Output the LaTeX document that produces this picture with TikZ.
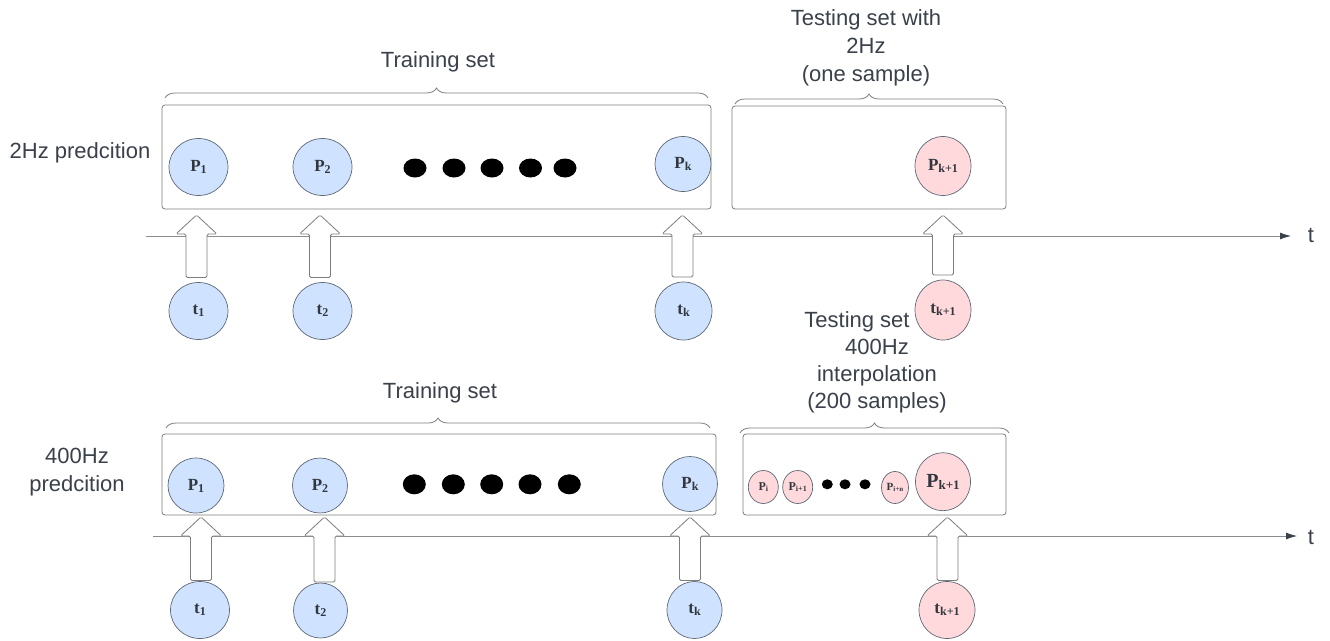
\documentclass[tikz,border=0pt]{standalone}
\usepackage{fontspec}
\setmainfont{Liberation Sans}
\newfontfamily\lserif{Liberation Serif}
\usetikzlibrary{shapes.geometric,arrows.meta,decorations.pathreplacing,calc}

\definecolor{ink}{RGB}{58,65,74}
\definecolor{frame}{RGB}{125,125,125}
\definecolor{axisgray}{RGB}{140,140,140}
\definecolor{bluefill}{RGB}{207,226,255}
\definecolor{pinkfill}{RGB}{255,217,220}
\definecolor{rim}{RGB}{95,105,118}
\definecolor{labink}{RGB}{50,55,62}

% symbol with subscript: #1 main size, #2 subscript size, #3 letter, #4 index
\newcommand\lab[4]{{\lserif\bfseries\fontsize{#1}{#1}\selectfont #3\raisebox{-0.12em}{\fontsize{#2}{#2}\selectfont #4}}}

% hollow block arrow from a time circle up to a set box
% [#1] x shift, #2 circle, #3 box, #4 gap below box, #5 gap above circle
\newcommand\pushup[5][0pt]{%
  \draw[hollow] let \p1=(#2.north), \p2=(#3.south) in
    (\x1+#1-10.5pt,\y1+#5) -- (\x1+#1-10.5pt,\y2-#4-19pt) -- (\x1+#1-20.5pt,\y2-#4-19pt)
    -- (\x1+#1,\y2-#4) -- (\x1+#1+20.5pt,\y2-#4-19pt) -- (\x1+#1+10.5pt,\y2-#4-19pt)
    -- (\x1+#1+10.5pt,\y1+#5) -- cycle;}

\tikzset{
  setbox/.style={draw=frame, line width=0.8pt, rounded corners=3pt, inner sep=0pt, outer sep=0pt, anchor=north west},
  bead/.style={ellipse, draw=rim, line width=0.7pt, inner sep=0pt, outer sep=0pt, text=labink},
  bluebead/.style={bead, fill=bluefill, minimum width=59pt, minimum height=57pt},
  pinkbead/.style={bead, fill=pinkfill},
  bigdot/.style={ellipse, fill=black, inner sep=0pt, minimum width=23pt, minimum height=19pt},
  smalldot/.style={ellipse, fill=black, inner sep=0pt, minimum width=11pt, minimum height=10pt},
  caption/.style={text=ink, font=\fontsize{22}{28}\selectfont, align=center, inner sep=0pt},
  timeaxis/.style={draw=axisgray, line width=0.8pt, -{Latex[length=11pt,width=7pt,color=ink]}},
  setbrace/.style={draw=frame, line width=0.8pt, decorate, decoration={brace, amplitude=10pt}},
  hollow/.style={draw=frame, fill=white, line width=0.8pt, rounded corners=1.5pt},
}

\begin{document}
\begin{tikzpicture}[x=1pt,y=-1pt]
\fill[white] (0,0) rectangle (1330,640);
\useasboundingbox (0,0) rectangle (1330,640);

% ---------------- 2 Hz prediction ----------------
\node[caption] (modeA) at (80,153) {2Hz predcition};
\node[caption] (trainLabA) at (438,62) {Training set};
\node[caption] (testLabA) at (866,48) {Testing set with\\2Hz\\(one sample)};

\draw[setbrace] (165,98) -- (708,98);
\draw[setbrace] (735,104) -- (1003,104);

\node[setbox, minimum width=549pt, minimum height=104pt] (trainA) at (162,105) {};
\node[setbox, minimum width=274pt, minimum height=103pt] (testA) at (732,106) {};

\coordinate (axA0) at (146,236);
\coordinate (axA1) at (1291,236);
\node[caption] (tlabA) at (1311,235) {t};
\draw[timeaxis] (axA0) -- (axA1);

\node[bluebead] (pA1) at (198.5,167) {\lab{17}{12}{P}{1}};
\node[bluebead] (pA2) at (322.5,167) {\lab{17}{12}{P}{2}};
\node[bluebead, minimum width=56pt, minimum height=55pt] (pAk) at (683,164) {\lab{17}{12}{P}{k}};
\node[pinkbead, minimum width=56pt, minimum height=59pt] (pAn) at (943,166) {\lab{17}{12}{P}{k+1}};

\foreach \i/\x in {1/415,2/454,3/492,4/530.5,5/565}
  \node[bigdot] (dA\i) at (\x,168) {};

\node[bluebead] (tA1) at (198.5,311) {\lab{17}{12}{t}{1}};
\node[bluebead] (tA2) at (322.5,311) {\lab{17}{12}{t}{2}};
\node[bluebead, minimum width=57pt, minimum height=58pt] (tAk) at (683.5,311) {\lab{17}{12}{t}{k}};
\node[pinkbead, minimum width=56pt, minimum height=60pt] (tAn) at (943,310) {\lab{17}{12}{t}{k+1}};

\pushup[-2pt]{tA1}{trainA}{6pt}{5pt}
\pushup[-2.5pt]{tA2}{trainA}{6pt}{5pt}
\pushup[-1pt]{tAk}{trainA}{6pt}{5pt}
\pushup{tAn}{testA}{6pt}{5pt}

% ---------------- 400 Hz prediction ----------------
\node[caption] (modeB) at (77,472) {400Hz\\predcition};
\node[caption] (trainLabB) at (440,393) {Training set};
\node[caption, font=\fontsize{22}{27}\selectfont] (testLabB) at (877,362.5)
  {Testing set\hspace*{40pt}\\400Hz\\interpolation\\(200 samples)};

\draw[setbrace] (166,428) -- (710,428);
\draw[setbrace] (740,433) -- (1009,433);

\node[setbox, minimum width=554pt, minimum height=81pt] (trainB) at (162,434) {};
\node[setbox, minimum width=263pt, minimum height=81pt] (testB) at (743,434) {};

\coordinate (axB0) at (153,536);
\coordinate (axB1) at (1297,536);
\node[caption] (tlabB) at (1311,537) {t};
\draw[timeaxis] (axB0) -- (axB1);

\node[bluebead, minimum width=56pt, minimum height=55pt] (pB1) at (196,485.5) {\lab{17}{12}{P}{1}};
\node[bluebead, minimum width=55pt, minimum height=55pt] (pB2) at (320,485.5) {\lab{17}{12}{P}{2}};
\node[bluebead, minimum width=55pt, minimum height=55pt] (pBk) at (690,484) {\lab{17}{12}{P}{k}};

\foreach \i/\x in {1/414.3,2/453.3,3/491.7,4/530,5/569.3}
  \node[bigdot, minimum height=20pt] (dB\i) at (\x,484.3) {};

\node[pinkbead, minimum width=30pt, minimum height=33pt] (pBi) at (763.3,487) {\lab{12}{8}{P}{i}};
\node[pinkbead, minimum width=30pt, minimum height=33pt] (pBi1) at (797.7,487) {\lab{12}{8}{P}{i+1}};
\foreach \i/\x in {1/827.3,2/845,3/865}
  \node[smalldot] (sB\i) at (\x,484.3) {};
\node[pinkbead, minimum width=27pt, minimum height=32pt] (pBin) at (895,487.5) {\lab{11}{7}{P}{i+n}};
\node[pinkbead, minimum width=55pt, minimum height=58pt] (pBn) at (943,481.7) {\lab{20}{13}{P}{k+1}};

\node[bluebead, minimum width=59pt, minimum height=57pt] (tB1) at (200,610) {\lab{17}{12}{t}{1}};
\node[bluebead, minimum width=54pt, minimum height=55pt] (tB2) at (320.5,610.5) {\lab{17}{12}{t}{2}};
\node[bluebead, minimum width=55pt, minimum height=57pt] (tBk) at (694.5,610) {\lab{17}{12}{t}{k}};
\node[pinkbead, minimum width=56pt, minimum height=57pt] (tBn) at (947,610) {\lab{17}{12}{t}{k+1}};

\pushup[1pt]{tB1}{trainB}{2pt}{1pt}
\pushup[4pt]{tB2}{trainB}{2pt}{1pt}
\pushup[-4.5pt]{tBk}{trainB}{2pt}{1pt}
\pushup[0.5pt]{tBn}{testB}{2pt}{1pt}
\end{tikzpicture}
\end{document}
